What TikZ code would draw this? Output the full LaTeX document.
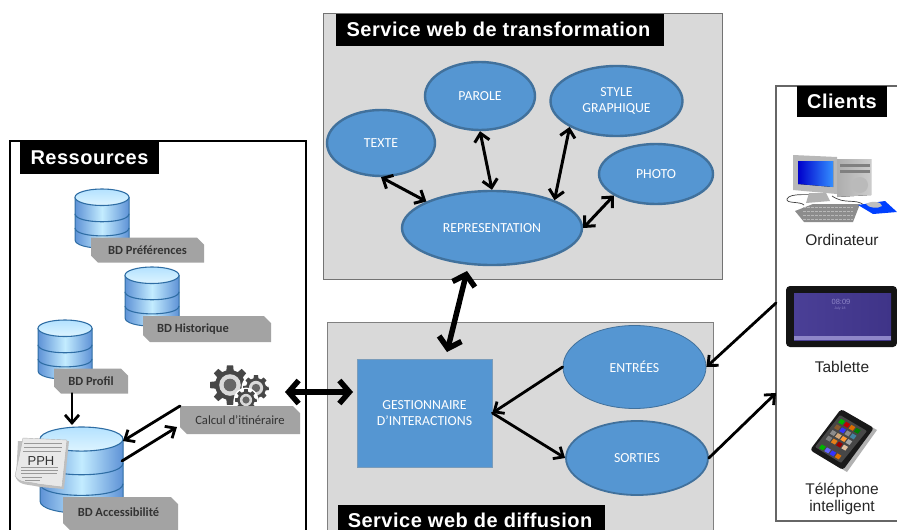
\documentclass[tikz,border=0pt]{standalone}
\usepackage{fontspec}
\setmainfont{Liberation Sans}
\newfontfamily\calfont{Carlito}
\newfontfamily\titlefont[LetterSpace=2.5]{Liberation Sans}
\usetikzlibrary{shapes.geometric,shapes.misc,arrows.meta,shadings}
\definecolor{panelgray}{HTML}{D9D9D9}
\definecolor{blueel}{HTML}{5596D2}
\definecolor{blueedge}{HTML}{41719C}
\definecolor{labelgray}{HTML}{A3A3A3}
\definecolor{cyledge}{HTML}{2E6DA4}
\definecolor{cyldark}{HTML}{5E92D6}
\definecolor{cyllight}{HTML}{C3ECFF}
\definecolor{cyltop}{HTML}{B4E2FF}
\definecolor{cyltoplow}{HTML}{DDF4FF}
\definecolor{tabletA}{HTML}{4A3F96}
\definecolor{tabletB}{HTML}{3F3488}
\definecolor{tabletbar}{HTML}{8E86C8}
\tikzset{
  x=1pt,y=-1pt,
  panel/.style={draw=#1,line width=1.2pt},
  paneltitle/.style={fill=black,text=white,inner sep=0pt,font=\titlefont\bfseries\fontsize{20}{22}\selectfont,anchor=center},
  oval/.style={ellipse,draw=blueedge,fill=blueel,line width=2.4pt,inner sep=0pt,text=white,align=center,font=\calfont\fontsize{13.8}{16}\selectfont},
  dblabel/.style={chamfered rectangle,chamfered rectangle xsep=3.5pt,chamfered rectangle ysep=3.5pt,
    chamfered rectangle corners={north east,south west},fill=labelgray,inner sep=0pt,text=black!80,
    font=\calfont\bfseries\fontsize{12.5}{14}\selectfont},
  devtext/.style={font=\fontsize{15.5}{17}\selectfont,text=black!85,align=center,inner sep=0pt},
  link/.style={line width=3pt,line cap=round,{Straight Barb[length=8pt,width=15pt]}-{Straight Barb[length=8pt,width=15pt]}},
  oneway/.style={line width=2.8pt,line cap=round,-{Straight Barb[length=8pt,width=14pt]}},
  heavy/.style={line width=5.5pt,line cap=round,{Straight Barb[length=10pt,width=23pt]}-{Straight Barb[length=10pt,width=23pt]}},
}
\newcommand{\dbcyl}[4]{%
  \begin{scope}[shift={(#1,#2)},xscale=#3,yscale=#4]
    \draw[draw=cyledge,line width=1pt,left color=cyldark,right color=cyldark,middle color=cyllight]
      (0,.14) -- (0,.86) .. controls (0,1.05) and (1,1.05) .. (1,.86) -- (1,.14) -- cycle;
    \draw[cyledge,line width=1.1pt] (0,.42) .. controls (0,.6) and (1,.6) .. (1,.42);
    \draw[cyledge,line width=1.1pt] (0,.66) .. controls (0,.84) and (1,.84) .. (1,.66);
    \draw[draw=cyledge,line width=1.1pt,top color=cyltop,bottom color=cyltoplow] (.5,.14) ellipse [x radius=.5,y radius=.14];
  \end{scope}}
\newcommand{\gearicon}[4]{%
  \begin{scope}[shift={(#1,#2)}]
    \fill[white] (0,0) circle [radius=#3+1.5];
    \fill[black!72] (0:#3)
      \foreach \i in {0,...,7}{ -- ({\i*45-9}:#3) -- ({\i*45+9}:#3) -- ({\i*45+14}:#4) -- ({\i*45+31}:#4) } -- cycle;
    \fill[black!15] (0,0) circle [radius=#4*.72];
    \fill[black!60] (0,0) circle [radius=#4*.42];
  \end{scope}}
\begin{document}
\begin{tikzpicture}
\useasboundingbox (0,0) rectangle (897,530);
\clip (0,0) rectangle (897,530);
\fill[white] (0,0) rectangle (897,530);

% ---------- panels
\node[panel=black,line width=1.5pt,minimum width=296pt,minimum height=400pt,inner sep=0pt] (resbox) at (158,341) {};
\node[panel=black!55,line width=1pt,fill=panelgray,minimum width=398.5pt,minimum height=266pt,inner sep=0pt] (trbox) at (522.75,146) {};
\node[panel=black!50,line width=1pt,fill=panelgray,minimum width=386pt,minimum height=220pt,inner sep=0pt] (difbox) at (520,432) {};
\node[panel=black!60,minimum width=140pt,minimum height=435pt,inner sep=0pt] (clibox) at (846,303.5) {};

% ---------- titles
\node[paneltitle,minimum width=139pt,minimum height=32pt] (restitle) at (89.5,158) {Ressources};
\node[paneltitle,minimum width=328pt,minimum height=32pt] (trtitle) at (500,29.5) {Service web de transformation\hspace{3pt}\mbox{}};
\node[paneltitle,minimum width=267pt,minimum height=30pt] (diftitle) at (471.5,520) {Service web de diffusion\hspace{3pt}\mbox{}};
\node[paneltitle,minimum width=90pt,minimum height=31pt] (clititle) at (842,101.5) {Clients};

% ---------- databases
\dbcyl{75}{189}{54}{59}
\node[dblabel,minimum width=113pt,minimum height=25pt] (bdpref) at (147.5,250) {BD Préférences};
\dbcyl{125}{267}{54}{59}
\node[dblabel,minimum width=128pt,minimum height=26pt] (bdhist) at (207,329) {BD Historique\hspace{28pt}\mbox{}};
\dbcyl{38}{320}{54}{59}
\node[dblabel,minimum width=74pt,minimum height=25pt] (bdprof) at (91,381) {BD Profil};
\dbcyl{40}{427}{83}{86}
\node[dblabel,minimum width=115pt,minimum height=33pt] (bdacc) at (120.5,513.5) {\raisebox{2pt}{BD Accessibilité}\hspace{4pt}\mbox{}};

% PPH document
\fill[black!25] (18,441) -- (69,441) -- (64,489) -- (40,487) .. controls (28,484) and (20,486) .. (16,478) -- cycle;
\fill[black!9,draw=black!30,line width=.4pt] (23,438) -- (67,440) -- (62,487) -- (38,484) .. controls (28,481) and (20,484) .. (15,476) -- cycle;
\foreach \yy/\xa/\xb in {443/24/62,447/24/62,451/23/61,467/21/58,470/21/58,473/21/57,477/22/42,480/25/40}
  \draw[black!40,line width=.5pt] (\xa,\yy) -- (\xb,\yy);
\node[inner sep=0pt,font=\fontsize{13}{14}\selectfont,text=black!80] (pph) at (41,461) {PPH};

% ---------- calcul
\gearicon{230}{385}{20}{15}
\gearicon{256}{388}{13}{10}
\gearicon{246}{400}{11}{8.5}
\node[dblabel,font=\calfont\fontsize{12.6}{14}\selectfont,minimum width=120pt,minimum height=28pt] (calc) at (240,420) {Calcul d’itinéraire};
\coordinate (calcin) at (180,406);
\coordinate (calcout) at (177,427);
\coordinate (accin) at (123,441);
\coordinate (accout) at (122,461);
\coordinate (proftop) at (72,393.5);
\coordinate (acctop) at (72,425);
\draw[oneway] (proftop) -- (acctop);
\draw[oneway] (calcin) -- (accin);
\draw[oneway] (accout) -- (calcout);

% ---------- transformation ellipses
\node[oval,minimum width=108pt,minimum height=66pt] (texte) at (381,143) {TEXTE};
\node[oval,minimum width=110pt,minimum height=68pt] (parole) at (480,96) {PAROLE};
\node[oval,minimum width=132pt,minimum height=70pt] (style) at (616.5,101) {STYLE\\GRAPHIQUE};
\node[oval,minimum width=114pt,minimum height=60pt] (photo) at (656,174) {PHOTO};
\node[oval,minimum width=180pt,minimum height=74pt] (rep) at (492,228) {REPRESENTATION};
\draw[link] (texte.270) -- (rep.158);
\draw[link] (parole.270) -- (rep.90);
\draw[link] (style.209) -- (rep.24);
\draw[link] (photo.207) -- (rep.0);

% ---------- diffusion
\node[rectangle,fill=blueel,draw=blueedge!70,line width=.8pt,minimum width=135pt,minimum height=108pt,inner sep=0pt,text=white,align=center,font=\calfont\fontsize{13.8}{16}\selectfont] (gest) at (424.5,413) {GESTIONNAIRE\\D’INTERACTIONS};
\node[oval,line width=.8pt,minimum width=143pt,minimum height=83pt] (entrees) at (634.5,367) {ENTRÉES};
\node[oval,line width=1.8pt,minimum width=142pt,minimum height=74pt] (sorties) at (637,458) {SORTIES};
\draw[oneway] (entrees.180) -- (gest.east);
\draw[oneway] (gest.east) -- (sorties.180);
\coordinate (cliout) at (776,303);
\coordinate (cliin) at (776,393);
\draw[oneway] (cliout) -- (entrees.0);
\draw[oneway] (sorties.0) -- (cliin);

% ---------- heavy connectors
\coordinate (heavytop) at (467,271);
\coordinate (heavybot) at (447,352);
\draw[heavy] (heavytop) -- (heavybot);
\coordinate (heavyleft) at (285,392);
\coordinate (heavyright) at (353,392);
\draw[heavy] (heavyleft) -- (heavyright);

% ---------- ordinateur
\draw[black!75,line width=.7pt] (822,194) .. controls (812,196) and (790,192) .. (787,199) .. controls (786,204) and (800,201) .. (804,205);
\draw[black!75,line width=.7pt] (832,196) .. controls (845,205) and (855,198) .. (864,205);
\fill[black!45] (795,211) -- (813,204) -- (860,204) -- (853,222) -- (804,222) -- cycle;
\foreach \yy in {207,211,215,219} \draw[black!28,line width=.8pt,dash pattern=on 3pt off 1pt] (803,\yy) -- (853,\yy);
\fill[blue!75!cyan] (858,205) -- (885,201) -- (897,212) -- (873,214) -- cycle;
\fill[black!25] (866,204) .. controls (872,200) and (882,202) .. (882,206) .. controls (878,209) and (868,208) .. (866,204) -- cycle;
\fill[left color=black!32,right color=black!20] (837,159) -- (871,159) -- (871,195) -- (837,197) -- cycle;
\fill[black!50] (840,164) rectangle (870,167);
\fill[black!50] (840,170) rectangle (870,173);
\fill[black!27] (860,185) circle [radius=8];
\fill[black!30] (809,193) -- (826,193) -- (830,201) -- (806,203) -- cycle;
\fill[black!28] (793,155) -- (837,157) -- (837,194) -- (793,190) -- cycle;
\fill[left color=blue!80!black,right color=blue!55!cyan!80] (798,161) -- (833,161) -- (833,187) -- (798,184) -- cycle;

% ---------- tablette
\fill[black!92,rounded corners=4pt] (786,286) rectangle (897,347);
\fill[left color=tabletA,right color=tabletB] (794,293) rectangle (891,340);
\fill[tabletbar] (794,336) rectangle (891,340);
\node[inner sep=0pt,text=tabletbar,font=\fontsize{7.5}{8}\selectfont] (clock) at (841,302) {08:09};
\node[inner sep=0pt,text=tabletbar,font=\fontsize{3.5}{4}\selectfont] (clockdate) at (840,309) {July 18};

% ---------- telephone
\fill[black!30] (845,412) -- (877,430) -- (847,472) -- (813,452) -- cycle;
\fill[black!90,rounded corners=3pt] (841,409) -- (874,428) -- (843,470) -- (810,450) -- cycle;
\fill[black!72,rounded corners=1pt] (840,415) -- (867,431) -- (841,463) -- (815,447) -- cycle;
\begin{scope}[shift={(840,414)},x={(0.87pt,-0.5pt)},y={(-0.6pt,-0.8pt)}]
  \foreach \cx/\cy/\cc in {
    6/6/green!70!black, 12/6/red!75!black, 18/6/orange!85!black, 24/6/green!50!black,
    6/13/brown!70!black, 12/13/blue!80, 18/13/black!45, 24/13/cyan!60!black,
    6/20/black!45, 12/20/brown!70, 18/20/orange!80, 24/20/black!35,
    6/27/black!50, 12/27/orange!60!brown, 18/27/red!60!black, 24/27/brown!50,
    6/38/green!70!black, 12/38/blue!60, 18/38/blue!80, 24/38/orange!90!black}
    \fill[\cc] (\cx-2.3,\cy-2.3) -- (\cx+2.3,\cy-2.3) -- (\cx+2.3,\cy+2.3) -- (\cx-2.3,\cy+2.3) -- cycle;
\end{scope}

% ---------- device names
\node[devtext] (ordi) at (842,240) {Ordinateur};
\node[devtext] (tabl) at (842,367) {Tablette};
\node[devtext] (tele) at (842,498.5) {Téléphone\\intelligent};
\end{tikzpicture}
\end{document}
